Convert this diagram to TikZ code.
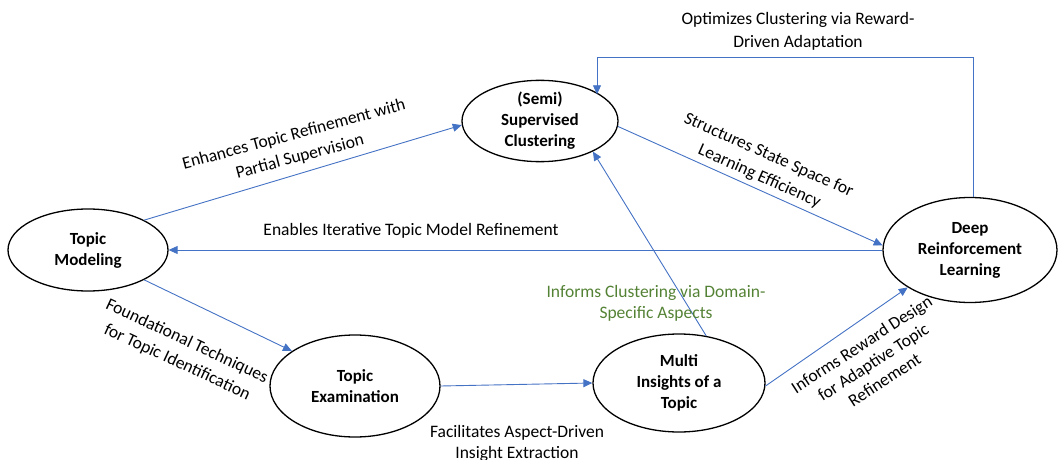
\documentclass[tikz,border=0pt]{standalone}
\usepackage{fontspec}
\setmainfont{Carlito}
\usetikzlibrary{shapes.geometric,arrows.meta,calc}
\definecolor{edgeblue}{HTML}{4472C4}
\definecolor{lblgreen}{HTML}{548235}
\begin{document}
\begin{tikzpicture}[x=1pt,y=-1pt,
  topic/.style={ellipse,draw=black,line width=1.3pt,inner sep=0pt,align=center,
    font=\fontsize{17}{21}\selectfont\bfseries},
  link/.style={draw=edgeblue,line width=0.9pt,-{Triangle[length=9pt,width=8pt]}},
  lbl/.style={align=center,font=\fontsize{17.5}{23}\selectfont,inner sep=0pt},
  lbltight/.style={lbl,font=\fontsize{17.5}{21}\selectfont}]
\useasboundingbox (0,0) rectangle (1058,460);
% topics
\node[topic,minimum width=160pt,minimum height=82pt] (tm) at (88,250) {Topic\\Modeling};
\node[topic,minimum width=156pt,minimum height=78pt] (sc) at (540,121) {(Semi)\\Supervised\\Clustering};
\node[topic,minimum width=174pt,minimum height=105pt] (drl) at (970,250) {Deep\\Reinforcement\\Learning};
\node[topic,minimum width=170pt,minimum height=102pt] (te) at (355,386) {Topic\\Examination};
\node[topic,minimum width=172pt,minimum height=98pt] (mi) at (679,383) {Multi\\Insights of a\\Topic};
% connectors
\coordinate (lp) at (597,57);
\draw[link] (tm.28) -- (sc.183);
\draw[link] (drl.west) -- (tm.east);
\draw[link] (tm.-28) -- (te.151);
\draw[link] (sc.-4) -- (drl.177);
\draw[link] (drl.86) |- (lp) -- (lp |- sc.24);
\draw[link] (mi.60) -- (sc.-30);
\draw[link] (te.east) -- (mi.west);
\draw[link] (mi.-2) -- (drl.211);
% labels
\node[lbl] (l1) at (798,31) {Optimizes Clustering via Reward-\\Driven Adaptation};
\node[lbl,rotate=15] (l2) at (297,146) {Enhances Topic Refinement with\\Partial Supervision};
\node[lbl] (l3) at (411,231) {Enables Iterative Topic Model Refinement};
\node[lbl,rotate=-24] (l4) at (764,166) {Structures State Space for\\Learning Efficiency};
\node[lbl,rotate=-25] (l5) at (182,352) {Foundational Techniques\\for Topic Identification};
\node[lbltight,text=lblgreen] (l6) at (656,303) {Informs Clustering via Domain-\\Specific Aspects};
\node[lbltight] (l7) at (517,443) {Facilitates Aspect-Driven\\Insight Extraction};
\node[lbltight,rotate=33] (l8) at (873,362) {Informs Reward Design\\for Adaptive Topic\\Refinement};
\end{tikzpicture}
\end{document}
